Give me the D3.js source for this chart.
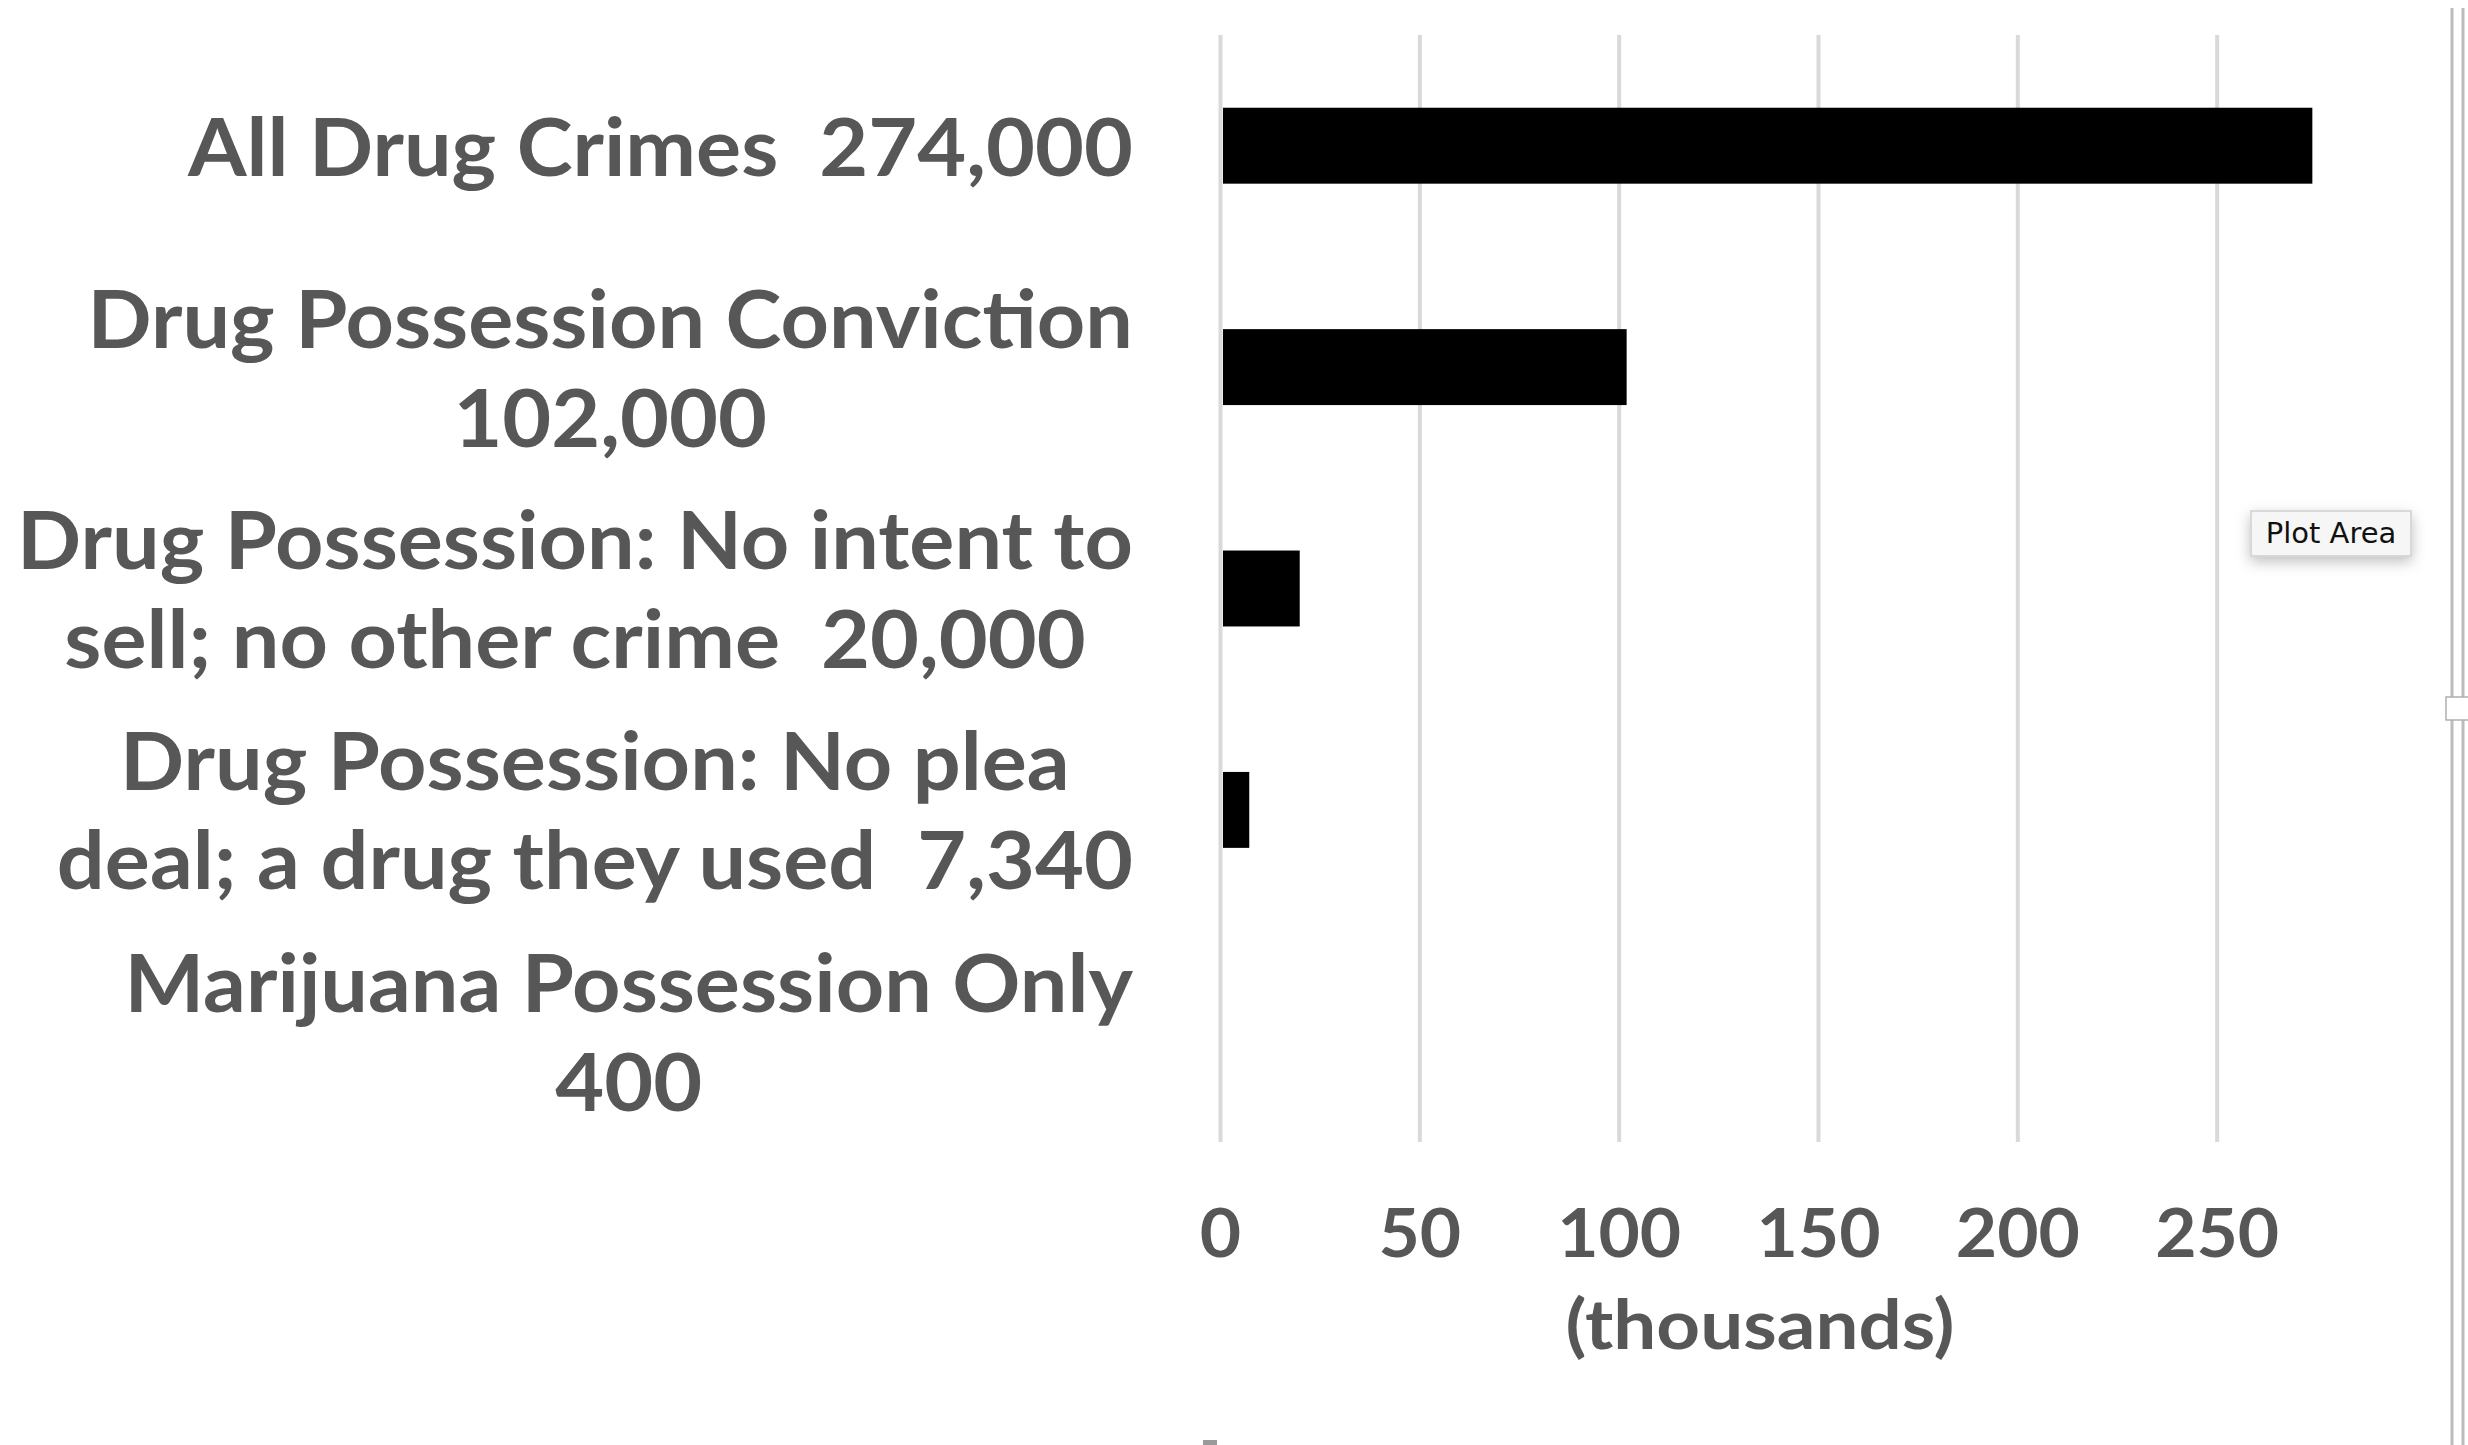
<!DOCTYPE html>
<html>
<head>
<meta charset="utf-8">
<script src="https://cdn.jsdelivr.net/npm/d3@7"></script>
<style>
  html, body { margin: 0; padding: 0; background: #ffffff; }
  svg { display: block; }
</style>
</head>
<body>
<svg id="chart" width="2468" height="1445"></svg>
<script>
// ---- data ----
const categories = [
  "All Drug Crimes",
  "Drug Possession Conviction",
  "Drug Possession: No intent to sell; no other crime",
  "Drug Possession: No plea deal; a drug they used",
  "Marijuana Possession Only"
];
const values = [274, 102, 20, 7.34, 0.4]; // thousands
const labelLines = [
  ["All Drug Crimes  274,000"],
  ["Drug Possession Conviction", "102,000"],
  ["Drug Possession: No intent to", "sell; no other crime  20,000"],
  ["Drug Possession: No plea", "deal; a drug they used  7,340"],
  ["Marijuana Possession Only", "400"]
];
const tickValues = [0, 50, 100, 150, 200, 250];
const axisTitle = "(thousands)";
const xMax = 300;

// ---- layout ----
const svg = d3.select("#chart");
const W = 2468, H = 1445;
const plot = { left: 1220, right: 2416, top: 35, bottom: 1142 };
const textColor = "#575757";
const labelFont = "Lato, 'Open Sans', sans-serif";

svg.append("rect").attr("width", W).attr("height", H).attr("fill", "#ffffff");

const x = d3.scaleLinear().domain([0, xMax]).range([plot.left, plot.right]);
const y = d3.scaleBand().domain(categories).range([plot.top, plot.bottom])
  .paddingInner(0.657).paddingOuter(0.3285);

// gridlines + tick labels via axis
const axis = d3.axisBottom(x).tickValues(tickValues)
  .tickSize(-(plot.bottom - plot.top)).tickPadding(0).tickFormat(d3.format("d"));
const gAxis = svg.append("g").attr("transform", `translate(0,${plot.bottom})`).call(axis);
gAxis.select(".domain").remove();
gAxis.selectAll(".tick line").attr("stroke", "#d9d9d9").attr("stroke-width", 4);
gAxis.selectAll(".tick text")
  .attr("y", 115).attr("dy", null)
  .attr("transform", "scale(1.08,1)")
  .attr("fill", textColor)
  .style("font-family", labelFont).style("font-weight", 700).style("font-size", "66px");

// bars
svg.append("g").selectAll("rect").data(categories).join("rect")
  .attr("x", x(0) + 3)
  .attr("y", d => y(d))
  .attr("width", (d, i) => Math.max(0, x(values[i]) - x(0) - 3))
  .attr("height", y.bandwidth())
  .attr("fill", "#000000");

// category labels (multi-line, block right-aligned, lines centered)
const labelRight = 1133;
const lineGap = 99;
const gLabels = svg.append("g");
const groups = gLabels.selectAll("g.lab").data(categories).join("g").attr("class", "lab");
groups.each(function(d, i) {
  const g = d3.select(this);
  const lines = labelLines[i];
  const cy = y(d) + y.bandwidth() / 2;
  lines.forEach((ln, j) => {
    g.append("text")
      .text(ln)
      .attr("y", cy + 30 + (j - (lines.length - 1) / 2) * lineGap)
      .attr("text-anchor", "middle")
      .attr("fill", textColor)
      .style("white-space", "pre")
      .style("font-family", labelFont).style("font-weight", 700).style("font-size", "80px");
  });
});
// horizontal adjustment to match the original face's proportions
let widest = 0;
gLabels.selectAll("text").each(function() { widest = Math.max(widest, this.getComputedTextLength()); });
const sx = 1116 / widest;
groups.each(function() {
  const g = d3.select(this);
  let w = 0;
  g.selectAll("text").each(function() { w = Math.max(w, this.getComputedTextLength()); });
  g.attr("transform", `translate(${labelRight},0) scale(${sx},1)`);
  g.selectAll("text").attr("x", -w / 2);
});

// axis title
const title = svg.append("text")
  .text(axisTitle)
  .attr("x", 0).attr("y", 1349)
  .attr("text-anchor", "middle")
  .attr("fill", textColor)
  .style("font-family", labelFont).style("font-weight", 700).style("font-size", "68px");
const tsx = 389 / title.node().getComputedTextLength();
title.attr("transform", `translate(1760,0) scale(${tsx},1)`);

// "Plot Area" tooltip
const defs = svg.append("defs");
const f = defs.append("filter").attr("id", "shadow").attr("x", "-30%").attr("y", "-50%").attr("width", "160%").attr("height", "220%");
f.append("feDropShadow").attr("dx", 0).attr("dy", 5).attr("stdDeviation", 7).attr("flood-color", "#000").attr("flood-opacity", 0.25);
svg.append("rect").attr("x", 2251).attr("y", 511).attr("width", 160).attr("height", 45)
  .attr("fill", "#f6f6f6").attr("stroke", "#cfcfcf").attr("stroke-width", 1.5).attr("filter", "url(#shadow)");
svg.append("text").text("Plot Area").attr("x", 2331).attr("y", 543).attr("text-anchor", "middle")
  .attr("fill", "#111").style("font-family", "'DejaVu Sans', sans-serif").style("font-size", "29px");

// right edge frame lines and handle
[2452, 2463].forEach(xx => {
  svg.append("line").attr("x1", xx).attr("x2", xx).attr("y1", 8).attr("y2", H)
    .attr("stroke", "#bcbcbc").attr("stroke-width", 3);
});
svg.append("rect").attr("x", 2446).attr("y", 697).attr("width", 26).attr("height", 23)
  .attr("fill", "#ffffff").attr("stroke", "#b0b0b0").attr("stroke-width", 1.5);
svg.append("rect").attr("x", 1203).attr("y", 1440).attr("width", 14).attr("height", 5).attr("fill", "#9a9a9a");
</script>
</body>
</html>
